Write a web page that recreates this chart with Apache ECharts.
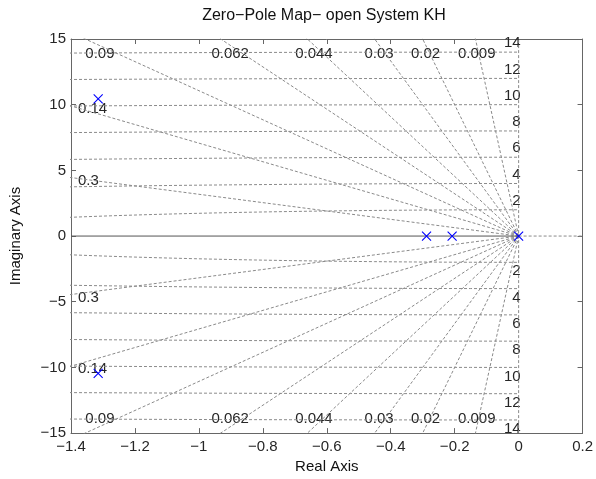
<!DOCTYPE html>
<html>
<head>
<meta charset="utf-8">
<title>Zero-Pole Map</title>
<script src="https://cdn.jsdelivr.net/npm/echarts@6/dist/echarts.min.js"></script>
<style>
	html, body { margin: 0; padding: 0; background: #fff; }
	#main { width: 596px; height: 479px; }
</style>
</head>
<body>
<div id="main"></div>
<script>
	// 轴范围
	var xMin = -1.4, xMax = 0.2, xStep = 0.2;
	var yMin = -15, yMax = 15, yStep = 5;

	// 阻尼比线 (sgrid)
	var zetaValues = [0.009, 0.02, 0.03, 0.044, 0.062, 0.09, 0.14, 0.3];
	var zetaTopLabels = [0.009, 0.02, 0.03, 0.044, 0.062, 0.09];
	var zetaSideLabels = [0.14, 0.3];
	// 自然频率圆
	var wnValues = [2, 4, 6, 8, 10, 12, 14];

	// 极点
	var poleReal = [-1.315, -1.315, -0.288, -0.208, 0];
	var poleImag = [10.45, -10.45, 0, 0, 0];

	var fontName = '"Liberation Sans", Arial, Helvetica, sans-serif';
	var gridColor = '#8a8a8a';
	var textColor = '#262626';
	var frameColor = '#666666';

	function fmt(v) {
		var s = String(parseFloat(Number(v).toFixed(2)));
		return s.replace('-', '\u2212');
	}

	var series = [];
	var dash = { color: gridColor, width: 1, type: [3, 2] };

	// 阻尼比射线 上下各一条
	zetaValues.forEach(function(z) {
		var r = 20;
		var wd = Math.sqrt(1 - z * z);
		[1, -1].forEach(function(sgn) {
			series.push({
				type: 'line',
				data: [[0, 0], [-z * r, sgn * wd * r]],
				symbol: 'none',
				silent: true,
				lineStyle: dash
			});
		});
	});

	// 自然频率圆弧
	wnValues.forEach(function(wn) {
		var left = Math.min(wn, 1.5);
		var n = 40;
		[1, -1].forEach(function(sgn) {
			var pts = [];
			for (var i = 0; i <= n; i++) {
				var x = -left + left * i / n;
				pts.push([x, sgn * Math.sqrt(wn * wn - x * x)]);
			}
			series.push({
				type: 'line',
				data: pts,
				symbol: 'none',
				silent: true,
				lineStyle: dash
			});
		});
	});

	// 虚轴 (zeta = 0)
	series.push({
		type: 'line',
		data: [[0, yMin], [0, yMax]],
		symbol: 'none',
		silent: true,
		lineStyle: dash
	});
	// 实轴
	series.push({
		type: 'line',
		data: [[xMin, 0], [0, 0]],
		symbol: 'none',
		silent: true,
		lineStyle: { color: '#555555', width: 1 }
	});
	series.push({
		type: 'line',
		data: [[0, 0], [xMax, 0]],
		symbol: 'none',
		silent: true,
		lineStyle: dash
	});

	var labelBase = {
		show: true,
		color: textColor,
		fontFamily: fontName,
		fontSize: 15
	};

	// 文字标签用的散点 (不显示符号)
	function labelSeries(data, labelCfg) {
		return {
			type: 'scatter',
			data: data,
			symbolSize: 0,
			silent: true,
			itemStyle: { opacity: 1 },
			label: Object.assign({}, labelBase, labelCfg, {
				formatter: function(p) { return p.name; }
			})
		};
	}

	// 上下阻尼比标签
	var topPts = [];
	zetaTopLabels.forEach(function(z) {
		topPts.push({ value: [-z * 14.55, 13.85], name: String(z) });
		topPts.push({ value: [-z * 14.55, -13.95], name: String(z) });
	});
	series.push(labelSeries(topPts, { position: 'inside' }));

	// 左侧阻尼比标签
	var sidePts = [];
	zetaSideLabels.forEach(function(z) {
		var y = -xMin * Math.sqrt(1 - z * z) / z;
		sidePts.push({ value: [xMin, y], name: String(z) });
		sidePts.push({ value: [xMin, -y], name: String(z) });
	});
	series.push(labelSeries(sidePts, { position: [7, 3], align: 'left', verticalAlign: 'middle' }));

	// 自然频率标签
	var wnUp = [], wnDown = [];
	wnValues.forEach(function(wn) {
		wnUp.push({ value: [0, wn], name: String(wn) });
		wnDown.push({ value: [0, -wn], name: String(wn) });
	});
	series.push(labelSeries(wnUp, { position: [2, -9], align: 'right', verticalAlign: 'middle' }));
	series.push(labelSeries(wnDown, { position: [2, 9], align: 'right', verticalAlign: 'middle' }));

	// 极点 x
	var poles = poleReal.map(function(re, i) { return [re, poleImag[i]]; });
	series.push({
		type: 'scatter',
		data: poles,
		symbol: 'path://M0,0L10,10M10,0L0,10',
		symbolSize: 9,
		itemStyle: { color: 'none', borderColor: '#0000ff', borderWidth: 1.1, opacity: 1 },
		z: 10
	});

	var axisTickIn = { show: true, inside: true, length: 5, lineStyle: { color: frameColor } };
	var axisLineStyle = { show: true, onZero: false, lineStyle: { color: frameColor, width: 1 } };
	var axisLabelStyle = { color: textColor, fontFamily: fontName, fontSize: 15 };

	var option = {
		animation: false,
		backgroundColor: '#ffffff',
		title: {
			text: 'Zero\u2212Pole Map\u2212 open System KH',
			left: 319,
			top: 3,
			textAlign: 'center',
			textStyle: { color: '#111111', fontFamily: fontName, fontSize: 16, fontWeight: 'normal' }
		},
		grid: { left: 71, right: 12, top: 39, bottom: 44 },
		xAxis: [{
			type: 'value', min: xMin, max: xMax, interval: xStep,
			name: 'Real Axis', nameLocation: 'middle', nameGap: 25,
			nameTextStyle: { color: '#111111', fontFamily: fontName, fontSize: 15 },
			axisLine: axisLineStyle, axisTick: axisTickIn,
			axisLabel: Object.assign({}, axisLabelStyle, { margin: 6, formatter: fmt }),
			splitLine: { show: false }
		}, {
			type: 'value', min: xMin, max: xMax, interval: xStep, position: 'top',
			axisLine: axisLineStyle, axisTick: axisTickIn,
			axisLabel: { show: false }, splitLine: { show: false }
		}],
		yAxis: [{
			type: 'value', min: yMin, max: yMax, interval: yStep,
			name: 'Imaginary Axis', nameLocation: 'middle', nameGap: 48,
			nameTextStyle: { color: '#111111', fontFamily: fontName, fontSize: 15 },
			axisLine: axisLineStyle, axisTick: axisTickIn,
			axisLabel: Object.assign({}, axisLabelStyle, { margin: 5, formatter: fmt }),
			splitLine: { show: false }
		}, {
			type: 'value', min: yMin, max: yMax, interval: yStep, position: 'right',
			axisLine: axisLineStyle, axisTick: axisTickIn,
			axisLabel: { show: false }, splitLine: { show: false }
		}],
		series: series
	};

	var myChart = echarts.init(document.getElementById('main'));
	myChart.setOption(option);
</script>
</body>
</html>
